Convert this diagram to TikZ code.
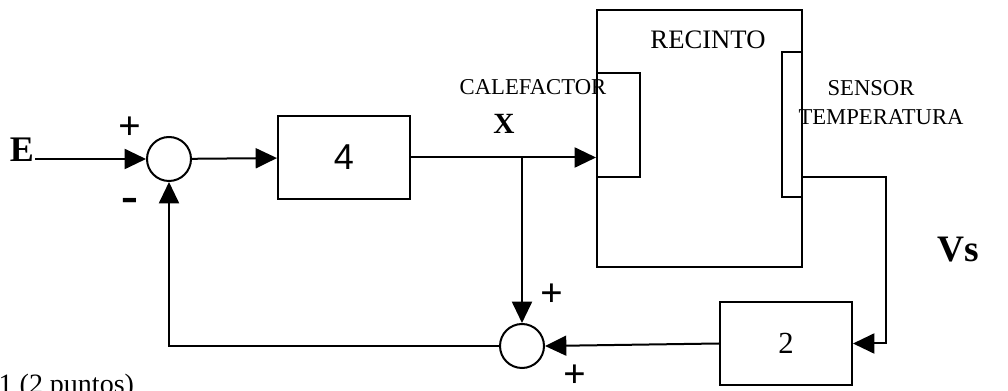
\documentclass[tikz,border=0pt]{standalone}
\usepackage{fontspec}
\setmainfont{Liberation Serif}
\newfontfamily\arialfont{Liberation Sans}
\usetikzlibrary{arrows.meta}

\begin{document}
\begin{tikzpicture}[x=0.75pt,y=-0.75pt,line width=1.5pt,
  arr/.style={-{Triangle[length=16pt,width=15pt]}},
  sumnode/.style={draw,circle,minimum size=33pt},
  gainbox/.style={draw,rectangle,minimum width=99pt,minimum height=62pt},
  sign/.style={font=\bfseries\fontsize{30pt}{30pt}\selectfont}]
\tikzstyle{every node}+=[inner sep=0pt]
\useasboundingbox (0,0) rectangle (1008,391);
\node [sumnode] (s1) at (169,159) {};
\node [sumnode] (s2) at (522,346) {};
\node [gainbox] (g4) at (344,157.5) {\arialfont\fontsize{27pt}{27pt}\selectfont 4};
\node [gainbox] (g2) at (786,343.5) {\fontsize{23pt}{23pt}\selectfont 2};
\node [draw,minimum width=153.75pt,minimum height=192.75pt] (recinto) at (699.5,138.5) {};
\node [draw,minimum width=32.25pt,minimum height=78pt] (cal) at (618.5,125) {};
\node [draw,minimum width=15pt,minimum height=108.75pt] (sen) at (792,124.5) {};
\node [font=\fontsize{20pt}{20pt}\selectfont] (trec) at (708,40) {RECINTO};
\node [font=\fontsize{17pt}{17pt}\selectfont] (tcal) at (533,87) {CALEFACTOR};
\node [font=\fontsize{17pt}{17pt}\selectfont] (tsen) at (871,88) {SENSOR};
\node [font=\fontsize{17pt}{17pt}\selectfont] (ttem) at (881,117) {TEMPERATURA};
\node [font=\bfseries\fontsize{27pt}{27pt}\selectfont] (E) at (22,150) {E};
\node [font=\bfseries\fontsize{22pt}{22pt}\selectfont] (X) at (504,124) {X};
\node [font=\bfseries\fontsize{28pt}{28pt}\selectfont] (Vs) at (958,250) {Vs};
\node [sign] (p1) at (130,128) {+};
\node [font=\bfseries\fontsize{38pt}{38pt}\selectfont] (m1) at (130,205) {-};
\node [sign] (p2) at (552,295) {+};
\node [sign] (p3) at (575,376) {+};
\node [anchor=base east,font=\fontsize{21pt}{21pt}\selectfont] (pts) at (135,394) {1 (2 puntos)};
\coordinate (xb) at (g4.east -| s2);
\coordinate (vs) at (886,177);
\draw [arr] (E.east |- s1) -- (s1);
\draw [arr] (s1) -- (g4);
\draw [arr] (g4.east) -- (g4.east -| cal.west);
\draw [arr] (xb) -- (s2.north);
\draw [arr] (sen.east |- vs) -- (vs) |- (g2.east);
\draw [arr] (g2.west) -- (s2.east);
\draw [arr] (s2.west) -| (s1.south);
\end{tikzpicture}
\end{document}
